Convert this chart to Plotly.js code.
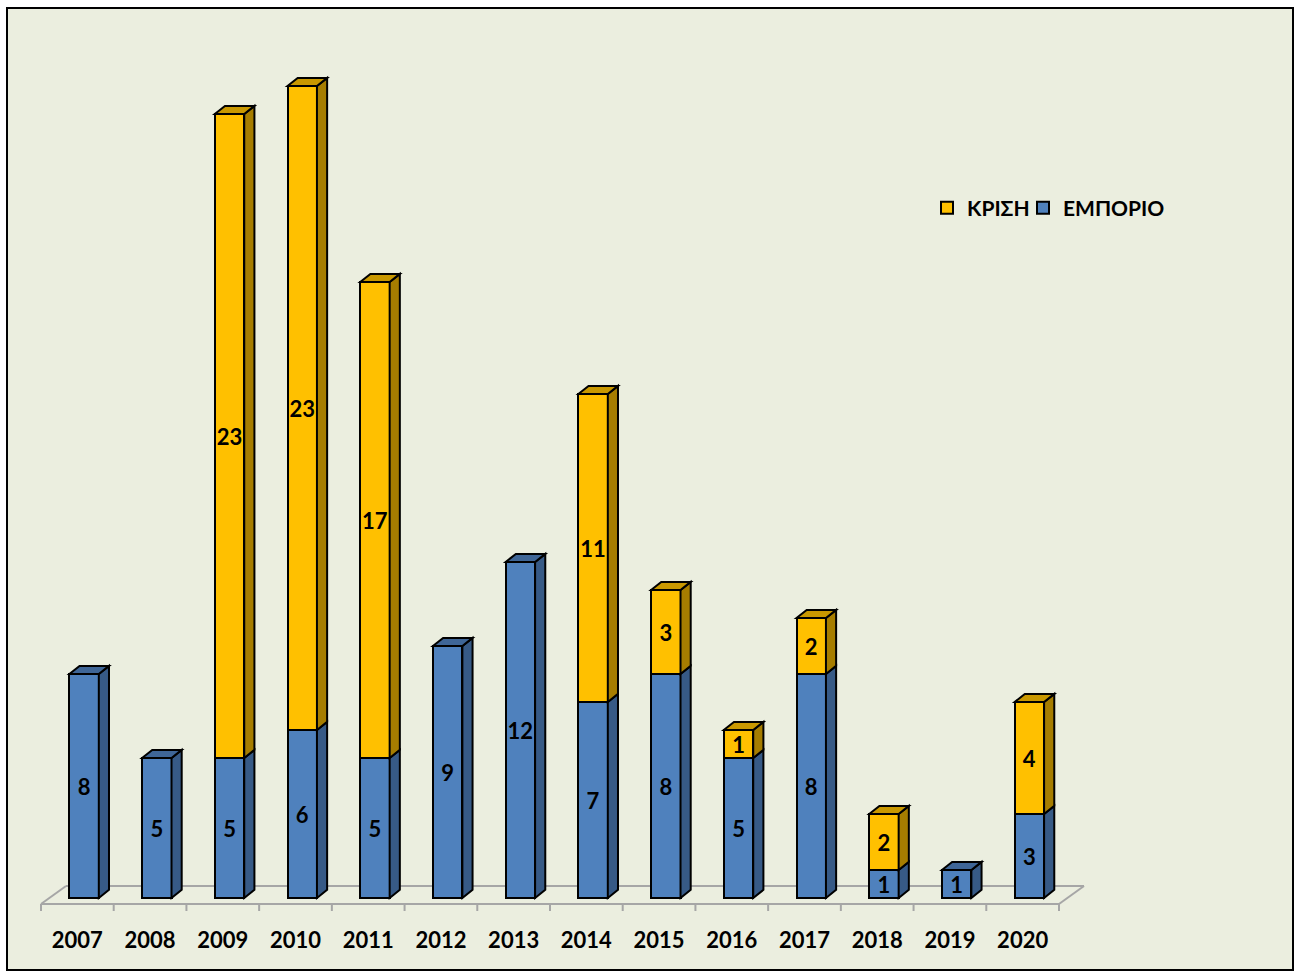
<!DOCTYPE html>
<html>
<head>
<meta charset="utf-8">
<script src="https://cdn.plot.ly/plotly-3.0.1.min.js"></script>
<style>
html,body{margin:0;padding:0;background:#ffffff;}
#frame{position:absolute;left:6px;top:7px;width:1288px;height:964px;box-sizing:border-box;border:2px solid #000;background:#EBEEDF;}
#chart{position:absolute;left:0;top:0;width:1296px;height:973px;}
</style>
</head>
<body>
<div id="frame"></div>
<div id="chart"></div>
<script>
// ---- data ----
const years = [2007, 2008, 2009, 2010, 2011, 2012, 2013, 2014, 2015, 2016, 2017, 2018, 2019, 2020];
const emporio = [8, 5, 5, 6, 5, 9, 12, 7, 8, 5, 8, 1, 1, 3];
const krisi = [0, 0, 23, 23, 17, 0, 0, 11, 3, 1, 2, 2, 0, 4];
const seriesNames = ['ΕΜΠΟΡΙΟ', 'ΚΡΙΣΗ'];

// ---- style ----
const FONT = 'Lato, "Open Sans", "DejaVu Sans", sans-serif';
const blue = {face: '#4F81BD', side: '#375A86', top: '#3F6697'};
const gold = {face: '#FFC000', side: '#A67D00', top: '#C99800'};
const OFF = -0.11, W = 0.405;      // bar front face placement within category
const DX = 0.14, DY = 0.29;        // 3D depth of bars (x units, y units)
const FLOOR_DX = 0.344, FLOOR_BACK = 0.43, FLOOR_FRONT = -0.214, TICK_END = -0.464;

const K = 72.714;      // px per category
const PXY = 28;        // px per unit in y

const nullIfZero = a => a.map(v => v === 0 ? null : v);

function barTrace(name, vals, col, legendId) {
  const v = nullIfZero(vals);
  return {
    type: 'bar', name: name, x: years, y: v, legend: legendId,
    offset: OFF, width: W,
    marker: {color: col.face, line: {color: '#000', width: 2}},
    text: v.map(d => d == null ? '' : String(d)),
    textposition: 'inside', insidetextanchor: 'middle', constraintext: 'none', textangle: 0,
    textfont: {family: FONT, size: 22, color: '#000', weight: 'bold'},
    hoverinfo: 'x+y+name'
  };
}
const traces = [barTrace(seriesNames[0], emporio, blue, 'legend2'), barTrace(seriesNames[1], krisi, gold, 'legend')];

// ---- 3D faces and floor as shapes derived from the data ----
const shapes = [];
const first = years[0] - 0.5, last = years[years.length - 1] + 0.5;
const floorLine = {color: '#A6A6A6', width: 2};
shapes.push({type: 'line', xref: 'x', yref: 'y', x0: first, y0: FLOOR_FRONT, x1: last, y1: FLOOR_FRONT, line: floorLine, layer: 'below'});
shapes.push({type: 'line', xref: 'x', yref: 'y', x0: first + FLOOR_DX, y0: FLOOR_BACK, x1: last + FLOOR_DX, y1: FLOOR_BACK, line: floorLine, layer: 'below'});
shapes.push({type: 'line', xref: 'x', yref: 'y', x0: first, y0: FLOOR_FRONT, x1: first + FLOOR_DX, y1: FLOOR_BACK, line: floorLine, layer: 'below'});
shapes.push({type: 'line', xref: 'x', yref: 'y', x0: last, y0: FLOOR_FRONT, x1: last + FLOOR_DX, y1: FLOOR_BACK, line: floorLine, layer: 'below'});
for (let b = first; b <= last + 1e-9; b += 1) {
  shapes.push({type: 'line', xref: 'x', yref: 'y', x0: b, y0: FLOOR_FRONT, x1: b, y1: TICK_END, line: floorLine, layer: 'below'});
}

years.forEach((yr, i) => {
  const xl = yr + OFF, xr = xl + W;
  const segs = [
    [0, emporio[i], blue],
    [emporio[i], emporio[i] + krisi[i], gold]
  ].filter(s => s[1] > s[0]);
  segs.forEach(s => {
    const [y0, y1, c] = s;
    shapes.push({
      type: 'path', xref: 'x', yref: 'y', layer: 'above',
      path: `M ${xr},${y0} L ${xr + DX},${y0 + DY} L ${xr + DX},${y1 + DY} L ${xr},${y1} Z`,
      fillcolor: c.side, line: {color: '#000', width: 2}
    });
  });
  const topSeg = segs[segs.length - 1];
  const yt = topSeg[1];
  shapes.push({
    type: 'path', xref: 'x', yref: 'y', layer: 'above',
    path: `M ${xl},${yt} L ${xl + DX},${yt + DY} L ${xr + DX},${yt + DY} L ${xr},${yt} Z`,
    fillcolor: topSeg[2].top, line: {color: '#000', width: 2}
  });
});

// ---- layout ----
const mL = 30, mT = 40, mB = 58, plotW = 1070, plotH = 973 - mT - mB;
const xr0 = first - 11 / K;
const yr0 = -(915 - 898) / PXY;
const legFont = {family: FONT, size: 21, color: '#000', weight: 'bold'};
const legBase = {orientation: 'h', xanchor: 'left', yanchor: 'middle', y: (915 - 208) / plotH,
                 font: legFont, bgcolor: 'rgba(0,0,0,0)', itemwidth: 30};

const layout = {
  width: 1296, height: 973,
  margin: {l: mL, r: 1296 - mL - plotW, t: mT, b: mB, pad: 0},
  paper_bgcolor: 'rgba(0,0,0,0)', plot_bgcolor: 'rgba(0,0,0,0)',
  barmode: 'stack',
  font: {family: FONT, size: 22, color: '#000'},
  showlegend: true,
  legend: Object.assign({}, legBase, {x: (927 - mL) / plotW}),
  legend2: Object.assign({}, legBase, {x: (1023 - mL) / plotW}),
  xaxis: {
    type: 'linear', range: [xr0, xr0 + plotW / K],
    tickmode: 'array', tickvals: years, ticktext: years.map(String),
    ticks: '', showgrid: false, zeroline: false, showline: false,
    tickfont: {family: FONT, size: 22, color: '#000', weight: 'bold'},
    ticklabelstandoff: 10, fixedrange: true
  },
  yaxis: {
    range: [yr0, yr0 + plotH / PXY],
    showgrid: false, zeroline: false, showline: false, showticklabels: false, ticks: '',
    fixedrange: true
  },
  shapes: shapes
};

Plotly.newPlot('chart', traces, layout, {displayModeBar: false, staticPlot: true});
</script>
</body>
</html>
